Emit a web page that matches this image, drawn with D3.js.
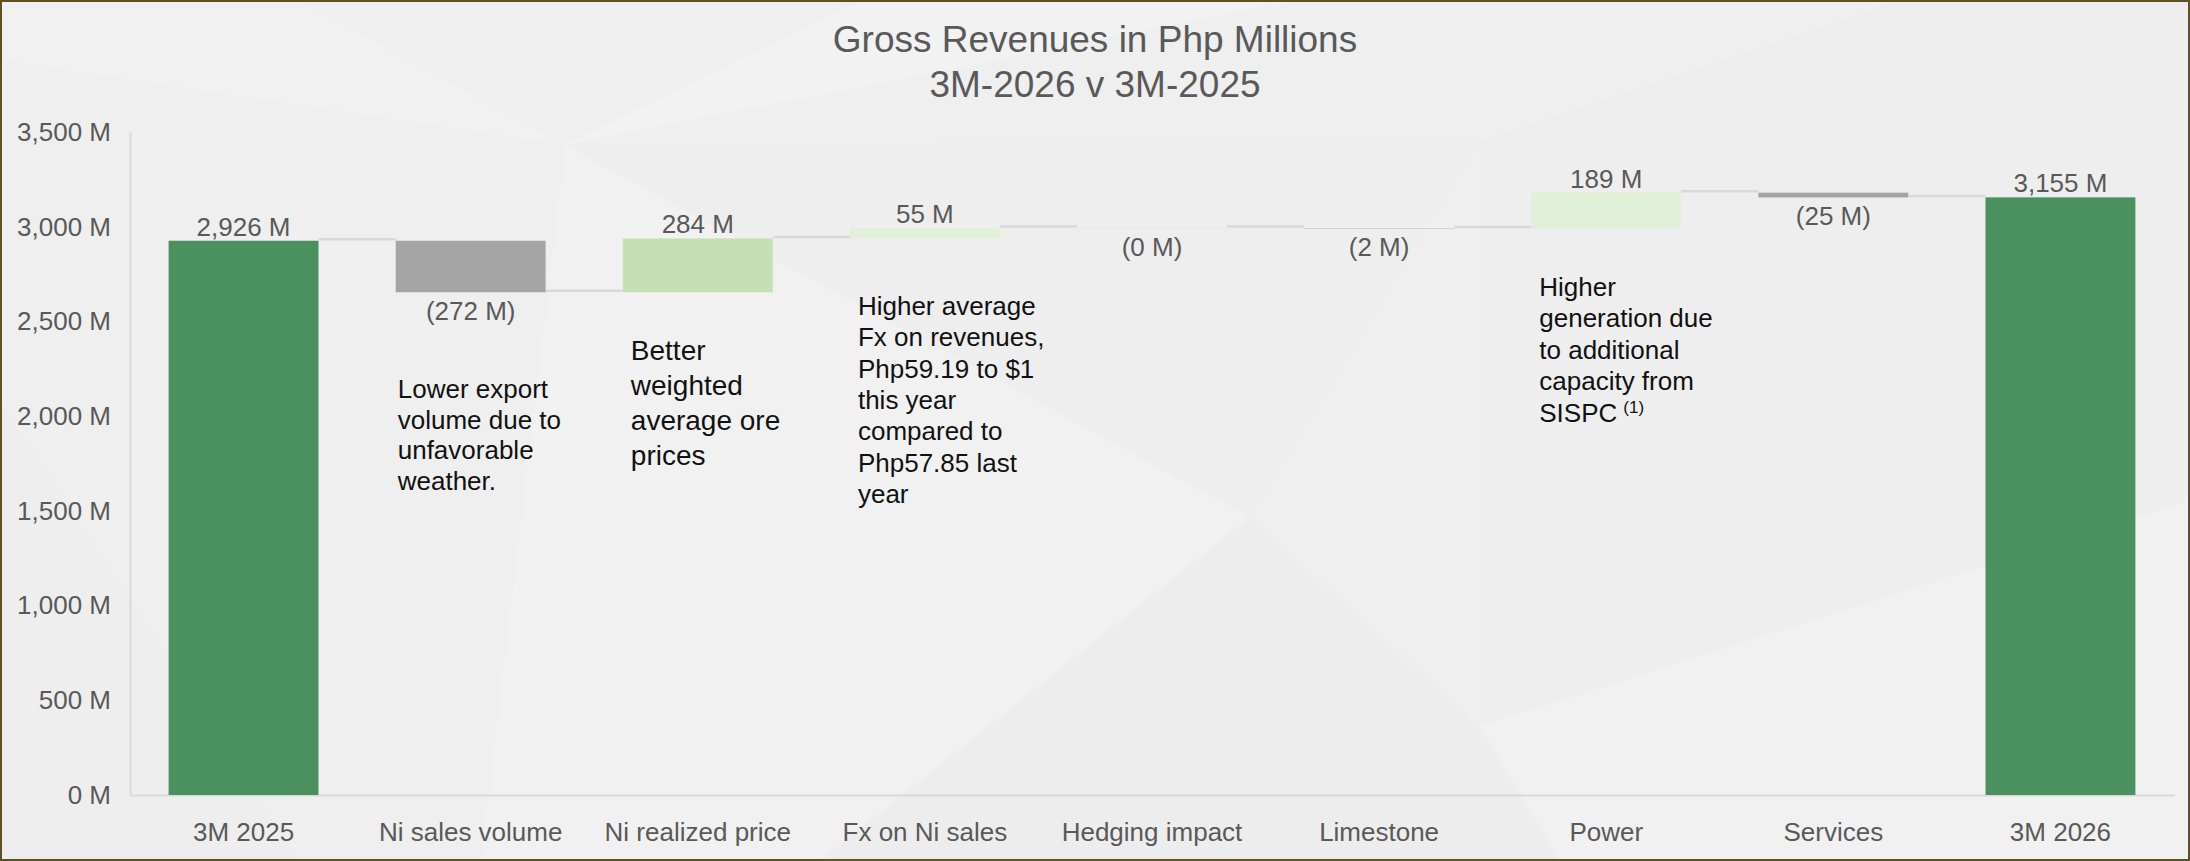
<!DOCTYPE html>
<head>
    <meta charset="utf-8">
    <title>Gross Revenues in Php Millions</title>
    <script src="https://d3js.org/d3.v7.min.js"></script>
    <style>
        body { margin: 0; background: #efefef; }
        svg { display: block; font-family: "Liberation Sans", Arial, sans-serif; }
    </style>
</head>
<body>
<div id="container"></div>
<script>
    //----------------------------DATA-------------------------------//
    const categories = ["3M 2025", "Ni sales volume", "Ni realized price", "Fx on Ni sales",
        "Hedging impact", "Limestone", "Power", "Services", "3M 2026"];
    const changes = [2926, -272, 284, 55, -0.3, -2, 189, -25, 3155];
    const totalCats = ["3M 2025", "3M 2026"];
    const yTicks = [0, 500, 1000, 1500, 2000, 2500, 3000, 3500];
    const titleLines = ["Gross Revenues in Php Millions", "3M-2026 v 3M-2025"];
    const noteCats = ["Ni sales volume", "Ni realized price", "Fx on Ni sales", "Power"];
    const noteLines = [
        ["Lower export", "volume due to", "unfavorable", "weather."],
        ["Better", "weighted", "average ore", "prices"],
        ["Higher average", "Fx on revenues,", "Php59.19 to $1", "this year", "compared to", "Php57.85 last", "year"],
        ["Higher", "generation due", "to additional", "capacity from", "SISPC"]
    ];
    const noteSups = [null, null, null, "(1)"];

    //---------------------------STYLES------------------------------//
    const width = 2190;
    const height = 861;
    const fills = {
        "3M 2025": "#4b9160", "Ni sales volume": "#a5a5a5", "Ni realized price": "#c5e0b4",
        "Fx on Ni sales": "#e2efd9", "Hedging impact": "#a5a5a5", "Limestone": "#a5a5a5",
        "Power": "#e2efd9", "Services": "#a5a5a5", "3M 2026": "#4b9160"
    };
    // note layout: x offset from bar left, first baseline, font size, line height
    const noteLayout = [
        {dx: 2, y: 398, size: 26, lh: 30.7},
        {dx: 8, y: 360, size: 28, lh: 35},
        {dx: 8, y: 315, size: 26, lh: 31.3},
        {dx: 8, y: 296, size: 26, lh: 31.4}
    ];
    const grey = "#595959";
    const lineGrey = "#d9d9d9";

    // faint low-poly facets of the slide background
    const facets = [
        {p: [[565, 145], [860, 0], [1300, 0]], f: "#f3f3f3"},
        {p: [[565, 145], [0, 60], [0, 0], [300, 0]], f: "#f2f2f2"},
        {p: [[565, 145], [1250, 517], [1480, 140]], f: "#ececec"},
        {p: [[565, 145], [1250, 517], [820, 861], [480, 861]], f: "#f2f2f2"},
        {p: [[1250, 517], [1480, 726], [1560, 861], [820, 861]], f: "#ebebeb"},
        {p: [[1480, 726], [2190, 500], [2190, 861], [1560, 861]], f: "#f2f2f2"},
        {p: [[1480, 140], [1900, 0], [2190, 0], [2190, 500], [1480, 726]], f: "#ededed"},
        {p: [[0, 400], [300, 861], [0, 861]], f: "#ececec"}
    ];

    const svg = d3.select("#container").append("svg")
        .attr("width", width)
        .attr("height", height);

    svg.append("rect")
        .attr("width", width).attr("height", height)
        .attr("fill", "#efefef");

    svg.selectAll("polygon.facet")
        .data(facets)
        .enter().append("polygon")
        .attr("class", "facet")
        .attr("points", d => d.p.map(q => q.join(",")).join(" "))
        .attr("fill", d => d.f)
        .attr("opacity", 0.6);

    //----------------------------SCALES-----------------------------//
    const x = d3.scaleBand()
        .domain(categories)
        .range([130, 2174])
        .paddingInner(0.34)
        .paddingOuter(0.17);
    const y = d3.scaleLinear()
        .domain([0, 3500])
        .range([795, 132]);

    // running totals for the waterfall
    let run = 0;
    const bars = categories.map(function(c, i) {
        const v = changes[i];
        let b;
        if (totalCats.includes(c)) {
            b = {c: c, v: v, y0: 0, y1: v, total: true};
            run = v;
        } else {
            b = {c: c, v: v, y0: run, y1: run + v, total: false};
            run += v;
        }
        b.end = run;
        return b;
    });

    const fmt = d3.format(",");
    function label(d) {
        if (d.v < 0) return "(" + fmt(Math.round(-d.v)) + " M)";
        return fmt(Math.round(d.v)) + " M";
    }

    //-----------------------------TITLE------------------------------//
    svg.selectAll("text.title")
        .data(titleLines)
        .enter().append("text")
        .attr("class", "title")
        .attr("x", width / 2)
        .attr("y", (d, i) => 52 + i * 45)
        .attr("text-anchor", "middle")
        .attr("fill", grey)
        .attr("font-size", 37)
        .text(d => d);

    //-----------------------------AXES------------------------------//
    const yAxis = svg.append("g")
        .attr("transform", "translate(130,0)")
        .call(d3.axisLeft(y).tickValues(yTicks).tickSize(0).tickPadding(19)
            .tickFormat(d => fmt(d) + " M"));
    yAxis.select(".domain").attr("stroke", lineGrey).attr("stroke-width", 2);
    yAxis.selectAll("text").attr("font-size", 26).attr("fill", grey)
        .attr("font-family", "'Liberation Sans', Arial, sans-serif");

    const xAxis = svg.append("g")
        .attr("transform", "translate(0,795)")
        .call(d3.axisBottom(x).tickSize(0).tickPadding(28));
    xAxis.select(".domain").attr("stroke", lineGrey).attr("stroke-width", 2);
    xAxis.selectAll("text").attr("font-size", 26).attr("fill", grey)
        .attr("font-family", "'Liberation Sans', Arial, sans-serif");

    //---------------------------CONNECTORS---------------------------//
    svg.selectAll("line.conn")
        .data(bars.slice(0, -1))
        .enter().append("line")
        .attr("class", "conn")
        .attr("x1", d => x(d.c) + x.bandwidth())
        .attr("x2", (d, i) => x(categories[i + 1]))
        .attr("y1", d => y(d.end) - 1.5)
        .attr("y2", d => y(d.end) - 1.5)
        .attr("stroke", lineGrey)
        .attr("stroke-width", 2.5);

    //-----------------------------BARS------------------------------//
    svg.selectAll("rect.bar")
        .data(bars)
        .enter().append("rect")
        .attr("class", "bar")
        .attr("x", d => x(d.c))
        .attr("width", x.bandwidth())
        .attr("y", d => y(Math.max(d.y0, d.y1)))
        .attr("height", d => Math.abs(y(d.y0) - y(d.y1)))
        .attr("fill", d => fills[d.c]);

    svg.selectAll("text.val")
        .data(bars)
        .enter().append("text")
        .attr("class", "val")
        .attr("x", d => x(d.c) + x.bandwidth() / 2)
        .attr("y", d => d.v >= 0 ? y(Math.max(d.y0, d.y1)) - 5 : y(Math.min(d.y0, d.y1)) + 28)
        .attr("text-anchor", "middle")
        .attr("font-size", 26)
        .attr("fill", grey)
        .text(label);

    //-----------------------------NOTES------------------------------//
    noteCats.forEach(function(c, i) {
        const L = noteLayout[i];
        const t = svg.append("text")
            .attr("x", x(c) + L.dx)
            .attr("y", L.y)
            .attr("font-size", L.size)
            .attr("fill", "#111");
        noteLines[i].forEach(function(line, j) {
            t.append("tspan")
                .attr("x", x(c) + L.dx)
                .attr("y", L.y + j * L.lh)
                .text(line);
        });
        if (noteSups[i]) {
            t.append("tspan")
                .attr("dx", 6)
                .attr("dy", -9)
                .attr("font-size", 17)
                .text(noteSups[i]);
        }
    });

    //-----------------------------BORDER-----------------------------//
    svg.append("rect")
        .attr("x", 1).attr("y", 1)
        .attr("width", width - 2).attr("height", height - 2)
        .attr("fill", "none")
        .attr("stroke", "#5e5125")
        .attr("stroke-width", 2);
</script>
</body>
